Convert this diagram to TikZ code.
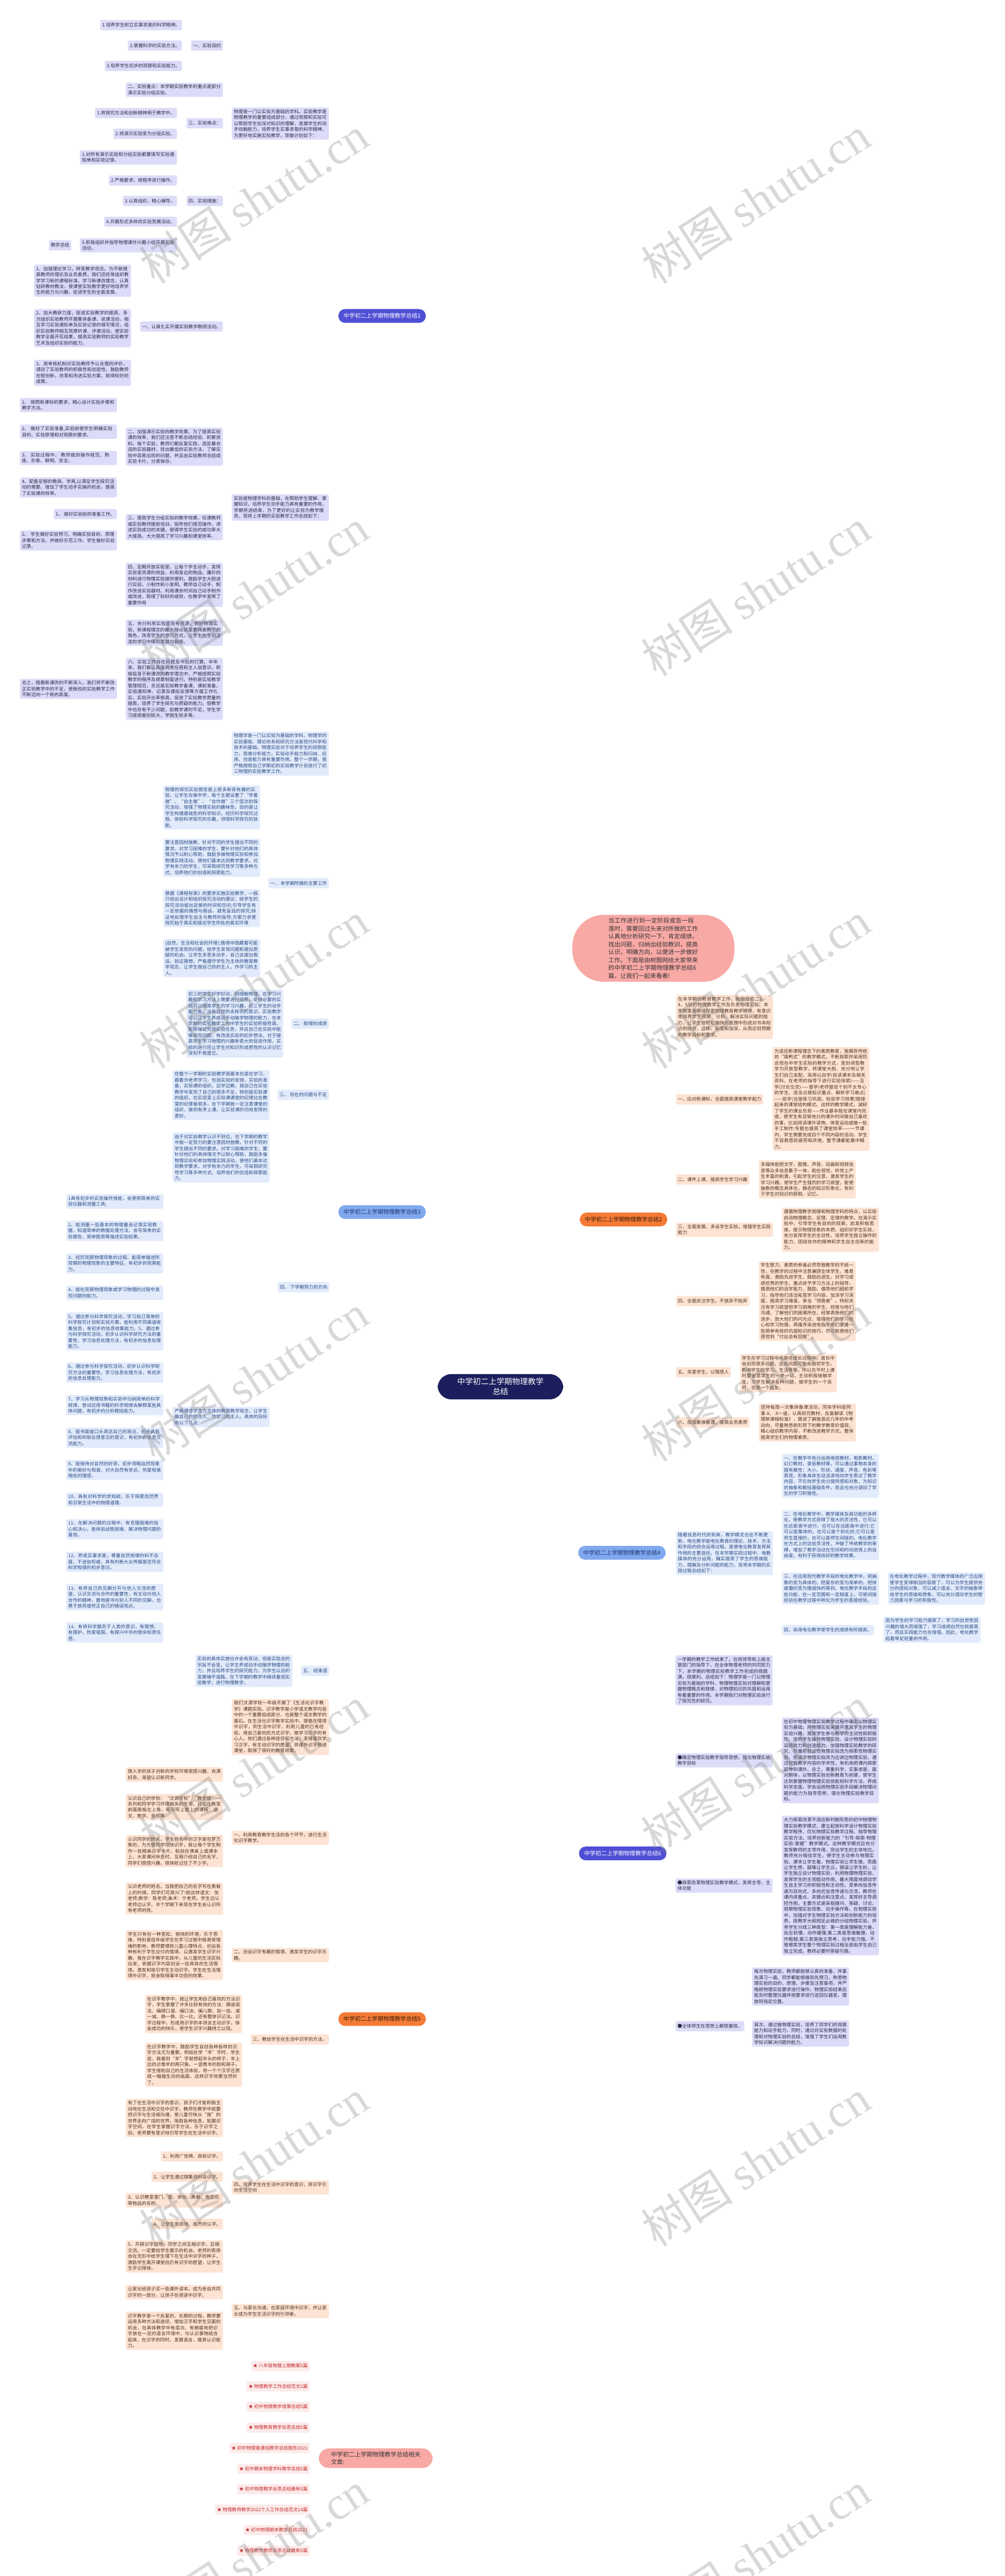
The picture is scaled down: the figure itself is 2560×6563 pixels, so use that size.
\documentclass[tikz,border=0pt]{standalone}
\usepackage{fontspec}
\setmainfont{Noto Sans CJK SC}
\newfontfamily\wmlatin{Liberation Serif}
\XeTeXlinebreaklocale "zh"
\XeTeXlinebreakskip=0pt plus 1pt
\usepackage{xcolor}
\usepackage{tikz}
\usetikzlibrary{positioning,calc}
\pgfdeclarelayer{bg}
\pgfsetlayers{bg,main}
\definecolor{rootFill}{HTML}{1C1F5E}
\definecolor{indigoTopic}{HTML}{4F4FD6}
\definecolor{indigoLeaf}{HTML}{DCDCF9}
\definecolor{indigoInk}{HTML}{2B2B45}
\definecolor{indigoLine}{HTML}{2A2D85}
\definecolor{skyTopic}{HTML}{7FA8EE}
\definecolor{skyHead}{HTML}{1F3570}
\definecolor{skyLeaf}{HTML}{E2EBFB}
\definecolor{skyInk}{HTML}{2A4B85}
\definecolor{skyLine}{HTML}{7DA1E2}
\definecolor{orangeTopic}{HTML}{F47B36}
\definecolor{orangeHead}{HTML}{3A1D0A}
\definecolor{orangeLeaf}{HTML}{FDE3D3}
\definecolor{orangeInk}{HTML}{4A3224}
\definecolor{orangeLine}{HTML}{E8762C}
\definecolor{pinkTopic}{HTML}{F8A9A6}
\definecolor{pinkLeaf}{HTML}{FCEBEB}
\definecolor{pinkInk}{HTML}{C62A2A}
\definecolor{pinkLine}{HTML}{F09A98}
\definecolor{introInk}{HTML}{333333}
\newcommand{\leaffont}{\fontsize{11.8}{15.2}\selectfont}
\tikzset{
  rootnode/.style={fill=rootFill, text=white, rounded corners=35pt, align=center,
    inner xsep=50pt, inner ysep=10pt, font=\fontsize{20}{26}\selectfont},
  topicnode/.style={rounded corners=17pt, inner xsep=13pt, inner ysep=2pt,
    minimum height=35pt, font=\fontsize{14.5}{17}\selectfont},
  indigotopic/.style={topicnode, fill=indigoTopic, text=white},
  skytopic/.style={topicnode, fill=skyTopic, text=skyHead},
  orangetopic/.style={topicnode, fill=orangeTopic, text=orangeHead},
  leafbox/.style={rounded corners=4pt, inner xsep=5pt, inner ysep=5pt,
    minimum height=26pt, align=left, font=\leaffont},
  indigoleaf/.style={leafbox, fill=indigoLeaf, text=indigoInk},
  skyleaf/.style={leafbox, fill=skyLeaf, text=skyInk},
  orangeleaf/.style={leafbox, fill=orangeLeaf, text=orangeInk},
  pinkleaf/.style={leafbox, fill=pinkLeaf, text=pinkInk},
  wide/.style={text width=237pt},
  introbubble/.style={fill=pinkTopic, text=introInk, rounded corners=80pt,
    inner xsep=92pt, inner ysep=8pt, text width=229pt, align=left,
    font=\fontsize{15.2}{20}\selectfont},
  relnode/.style={fill=pinkTopic, text=introInk, rounded corners=26pt,
    inner xsep=31pt, inner ysep=8pt, align=left, font=\fontsize{15.2}{20}\selectfont},
  trunk/.style={line width=2.2pt},
  indigolink/.style={draw=indigoLine, line width=1.3pt, rounded corners=5pt},
  skylink/.style={draw=skyLine, line width=1.3pt, rounded corners=5pt},
  orangelink/.style={draw=orangeLine, line width=1.3pt, rounded corners=5pt},
  pinklink/.style={draw=pinkLine, line width=1.3pt, rounded corners=5pt},
  wmark/.style={rotate=33, text=gray, opacity=0.3, font=\fontsize{118}{118}\selectfont}
}
\begin{document}
\begin{tikzpicture}[x=1pt,y=-1pt]
\fill[white] (0,0) rectangle (2560,6563);
\useasboundingbox (0,0) rectangle (2560,6563);

% root
\node[rootnode] (root) at (1275,3533) {中学初二上学期物理教学\\总结};

% ---------- summary 1 (left, indigo)
\node[indigotopic, anchor=west] (s1) at (862,805) {中学初二上学期物理教学总结1};
\node[indigoleaf, wide, anchor=east] (plan) at (838,315) {物理是一门以实验为基础的学科。实验教学是物理教学的重要组成部分，通过观察和实验可以帮助学生加深对知识的理解，发展学生的动手动脑能力，培养学生实事求是的科学精神。为更好地实施实验教学，现做计划如下：};
\node[indigoleaf, anchor=east] (aim) at (568,116) {一、实验目的};
\node[indigoleaf, anchor=east] (aim1) at (464,64) {1.培养学生树立实事求是的科学精神。};
\node[indigoleaf, anchor=east] (aim2) at (464,116) {2.掌握科学的实验方法。};
\node[indigoleaf, anchor=east] (aim3) at (464,168) {3.培养学生初步的观察和实验能力。};
\node[indigoleaf, wide, anchor=east] (focus) at (568,229) {二、实验重点：本学期实验教学的重点是部分演示实验分组实验。};
\node[indigoleaf, anchor=east] (hard) at (568,314) {三、实验难点：};
\node[indigoleaf, anchor=east] (hard1) at (451,288) {1.将探究方法和创新精神用于教学中。};
\node[indigoleaf, anchor=east] (hard2) at (451,341) {2.将演示实验变为分组实验。};
\node[indigoleaf, anchor=east] (meas) at (568,512) {四、实验措施：};
\node[indigoleaf, wide, anchor=east] (meas1) at (451,401) {1.对所有演示实验和分组实验都要填写实验通知单和实验记录。};
\node[indigoleaf, anchor=east] (meas2) at (451,460) {2.严格要求，按程序进行操作。};
\node[indigoleaf, anchor=east] (meas3) at (451,512) {3.认真组织，精心辅导。};
\node[indigoleaf, anchor=east] (meas4) at (451,565) {4.开展形式多样的实验竞赛活动。};
\node[indigoleaf, wide, anchor=east] (meas5) at (451,625) {5.积极组织并指导物理课外兴趣小组开展实验活动。};
\node[indigoleaf, anchor=east] (msum) at (182,625) {教学总结};

\node[indigoleaf, wide, anchor=east] (review) at (838,1293) {实验是物理学科的基础，在帮助学生理解、掌握知识，培养学生动手能力具有重要的作用。学期将进结束，为了更好的让实验为教学服务，现将上学期的实验教学工作总结如下：};
\node[indigoleaf, anchor=east] (act) at (568,832) {一、认真扎实开展实验教学教研活动。};
\node[indigoleaf, wide, anchor=east] (act1) at (334,715) {1、加强理论学习，转变教学观念。为不断提高教师的理论及业务素质，我们还经常组织教学学习新的课程标准，学习新课改理念，认真钻研教材教法，使课堂实验教学更好地培养学生的能力与兴趣，促进学生的全面发展。};
\node[indigoleaf, wide, anchor=east] (act2) at (334,836) {2、加大教研力度，促进实验教学的提高。多次组织实验教师开展集体备课、说课活动，相互学习实验通知单及实验记录的填写情况，组织实验教师相互观摩听课、评课活动，使实验教学全面开花结果，提高实验教师的实验教学艺术及组织实验的能力。};
\node[indigoleaf, wide, anchor=east] (act3) at (334,950) {3、用考核机制对实验教师予以合理的评价，调动了实验教师的积极性和创造性，鼓励教师在胆创新，改革和改进实验方案，取得较好的成果。};
\node[indigoleaf, wide, anchor=east] (demo) at (568,1138) {二、加强演示实验的教学效果。为了提高实验课的效率，我们还注意不断总结经验、积累资料。每个实验，教师们都反复实践，选定最合适的实验器材，找出最佳的实验方法，了解实验中容易出现的问题，并且由实验教师总结成实验卡片，分类保存。};
\node[indigoleaf, wide, anchor=east] (demo1) at (298,1032) {1、 按照新课标的要求，精心设计实验步骤和教学方法。};
\node[indigoleaf, wide, anchor=east] (demo2) at (298,1100) {2、 做好了实验准备,实验前使学生明确实验目的、实验原理和对观察的要求。};
\node[indigoleaf, wide, anchor=east] (demo3) at (298,1167) {3、 实验过程中， 教师做到操作规范、熟练、形象、鲜明、安全。};
\node[indigoleaf, wide, anchor=east] (demo4) at (298,1242) {4、配备足够的教具、学具,以满足学生探究活动的需要。增加了学生动手实操的机会，提高了实验课的效率。};
\node[indigoleaf, wide, anchor=east] (group) at (568,1343) {三、提高学生分组实验的教学效果。任课教师或实验教师提前培训，指导他们规范操作，讲述实验成功的关键。使得学生实验的成功率大大提高，大大提高了学习兴趣和课堂效率。};
\node[indigoleaf, anchor=east] (group1) at (298,1310) {1、 做好实验前的准备工作。};
\node[indigoleaf, wide, anchor=east] (group2) at (298,1377) {2、 学生做好实验预习，明确实验目的、原理步骤和方法。并做好示范工作。学生做好实验记录。};
\node[indigoleaf, wide, anchor=east] (lab) at (568,1490) {四、定期开放实验室，让每个学生动手，发挥实验室资源的效益，利用身边的物品，廉价的材料进行物理实验提供便利，鼓励学生大胆进行实验，小制作和小发明。教师自己动手，制作改进实验器材。利用课余时间自己动手制作或改进，取得了较好的成效，在教学中发挥了重要作用};
\node[indigoleaf, wide, anchor=east] (room) at (568,1612) {五、充分利用实验室现有资源，搞好物理实验，新课程理念的最大特点就是要转变教师的角色，改变学生的学习方式，让学生在生动活泼的学习中得到发展与锻炼。};
\node[indigoleaf, wide, anchor=east] (issue) at (568,1755) {六、实验工作存在问题及今后的打算。半年来，我们都以高度的责任感和主人翁意识，积极投身于新课改的教学理念中，严格按照实验教学的程序及规章制度进行。特别是实验教学管理规范，无论是实验教学备课、课前准备、实验通知单、记录及课后反馈等方面工作扎实，实验开出率很高，促进了实验教学质量的提高，培养了学生探究与质疑的能力。但教学中也存有不少问题，如教学课时不足，学生学习成绩差别较大，学困生较多等。};
\node[indigoleaf, wide, anchor=east] (issue1) at (298,1755) {总之，随着新课改的不断深入，我们将不断改正实验教学中的不足，使我校的实验教学工作不断迈向一个新的高度。};

% ---------- summary 3 (left, sky)
\node[skytopic, anchor=west] (s3) at (862,3088) {中学初二上学期物理教学总结3};
\node[skyleaf, wide, anchor=east] (base) at (838,1920) {物理学是一门以实验为基础的学科。物理学的实验基础、理论体系和研究方法是现代科学和技术的基础。物理实验对于培养学生的观察能力，思维分析能力，实验动手能力和归纳、应用、创造能力具有重要作用。整个一学期，我严格按照自己学期初的实验教学计划进行了初三物理的实验教学工作。};
\node[skyleaf, anchor=east] (work) at (838,2250) {一、 本学期所做的主要工作};
\node[skyleaf, wide, anchor=east] (work1) at (663,2057) {物理的探究实验报告册上很多新奇有趣的实验，让学生在做中学，每个主题设置了“学着做”、“自主做”、“合作做”三个层次的探究活动，增强了物理实验的趣味性。目的是让学生构建基础性的科学知识，经历科学探究过程，体验科学探究的乐趣，领悟科学探究的技能。};
\node[skyleaf, wide, anchor=east] (work2) at (663,2185) {要注意因材施教，针对不同的学生提出不同的要求。对学习困难的学生，要针对他们的具体情况予以耐心帮助，鼓励多做物理实验和参加物理实践活动，使他们基本达到教学要求。对学有余力的学生，可采取研究性学习等多种方式，培养他们的创造和探索能力。};
\node[skyleaf, wide, anchor=east] (work3) at (663,2314) {根据《课程标准》的要求实施实验教学，一般只给出设计和组织探究活动的建议：给学生的探究活动留出足够的时间和空间;引导学生有一定依据的猜想与假设，避免盲目的探究;辩证地处理学生自主与教师的指导;方案力求使探究始于真实和接近学生所处的真实环境};
\node[skyleaf, wide, anchor=east] (work4) at (663,2441) {(自然、生活和社会的环境);情境中隐藏着可能被学生发现的问题，给学生发现问题和提出质疑的机会。让学生多思多动手，自己去提出假设，验证猜想，严格遵守学生为主体的教育教学观念，让学生做自己的的主人，作学习的主人。};
\node[skyleaf, anchor=east] (gain) at (838,2608) {二、 取得的成绩};
\node[skyleaf, wide, anchor=east] (gain1) at (722,2608) {初三的学生好学好动，刚接触物理，在学习兴趣和学习方法上需要进行培养，安排必要的实验可以提高学生的学习兴趣，初三学生的动手能力差，没有自觉的去探究的意识，实验教学可以让学生养成动手动脑学物理的能力，在本学期的实验教学工作中学生的实验积极性高，能够保证完成实验任务，并且自己在实验中能够发现问题，有改进实验的初步想法，对于提高学生学习物理的兴趣有很大的促进作用，实验的进行还让学生对知识形成感性的认识记忆深刻不易遗忘。};
\node[skyleaf, anchor=east] (lack) at (838,2789) {三、 存在的问题与不足};
\node[skyleaf, wide, anchor=east] (lack1) at (687,2790) {在整个一学期的实验教学我基本也是在学习，跟着许老师学习，包括实验的安排，实验的准备，实验课的组织，边学边教，我自己在实验教学中发现了自己的很多不足，特别是实验课的组织，在实验室上实验课课堂的纪律比在教室的纪律差很多，在下学期我一定注意课堂的组织，做到有序上课，让实验课的功效发挥的更好。};
\node[skyleaf, anchor=east] (next) at (839,3279) {四、 下学期努力的方向};
\node[skyleaf, wide, anchor=east] (next1) at (687,2949) {由于对实验教学认识不到位，在下学期的教学中我一定努力的要注意因材施教，针对不同的学生提出不同的要求。对学习困难的学生，要针对他们的具体情况予以耐心帮助，鼓励多做物理实验和参加物理实践活动，使他们基本达到教学要求。对学有余力的学生，可采取研究性学习等多种方式，培养他们的创造和探索能力。};
\node[skyleaf, wide, anchor=east] (next2) at (687,3610) {严格遵守学生为主体的教育教学观念，让学生做自己的的主人，作学习的主人。具体的目标有以下几点：};
\node[skyleaf, wide, anchor=east] (goal1) at (416,3061) {1具有初步的实验操作技能，会使用简单的实验仪器和测量工具;};
\node[skyleaf, wide, anchor=east] (goal2) at (416,3136) {2、能测量一些基本的物理量会记录实验数据，知道简单的数据处理方法，会写简单的实验报告，简单图表等描述实验结果。};
\node[skyleaf, wide, anchor=east] (goal3) at (416,3219) {3、经历观察物理现象的过程，能简单描述所观察的物理现象的主要特征。有初步的观察能力。};
\node[skyleaf, wide, anchor=east] (goal4) at (416,3294) {4、能在观察物理现象或学习物理的过程中发现问题的能力。};
\node[skyleaf, wide, anchor=east] (goal5) at (416,3392) {5、通过参与科学探究活动，学习拟订简单的科学探究计划和实验方案，能利用不同渠道收集信息，有初步的信息收集能力。5、通过参与科学探究活动，初步认识科学研究方法的重要性，学习信息处理方法，有初步的信息处理能力。};
\node[skyleaf, wide, anchor=east] (goal6) at (416,3497) {6、通过参与科学探究活动，初步认识科学研究方法的重要性，学习信息处理方法，有初步的信息处理能力。};
\node[skyleaf, wide, anchor=east] (goal7) at (416,3580) {7、学习从物理现象和实验中归纳简单的科学规律，尝试应用书籍的科学规律去解释某些具体问题，有初步的分析概括能力。};
\node[skyleaf, wide, anchor=east] (goal8) at (416,3663) {8、能书面或口头表达自己的观点，初步具有评估和听取反馈意见的意识，有初步的信息交流能力。};
\node[skyleaf, wide, anchor=east] (goal9) at (416,3745) {9、能保持对自然的好奇，初步领略自然现象中的美妙与和谐，对大自然有亲近，热爱和谐相处的情感。};
\node[skyleaf, wide, anchor=east] (goal10) at (416,3821) {10、具有对科学的求知欲，乐于探索自然界和日常生活中的物理道理。};
\node[skyleaf, wide, anchor=east] (goal11) at (416,3896) {11、在解决问题的过程中，有克服困难的信心和决心，能体验战胜困难，解决物理问题的喜悦。};
\node[skyleaf, wide, anchor=east] (goal12) at (416,3979) {12、养成实事求是，尊重自然规律的科不态度，不迷信权威，具有判断大众传媒是否符合科学规律的初步意识。};
\node[skyleaf, wide, anchor=east] (goal13) at (416,4069) {13、有将自己的见解分开与他人交流的愿望，认识交流与合作的重要性，有主动与他人合作的精神，敢地提书与别人不同的见解，也勇于放弃或修正自己的错误观点。};
\node[skyleaf, wide, anchor=east] (goal14) at (416,4159) {14、有将科学服务于人类的意识，有理想，有报护，热爱祖国，有振兴中华的使命和责任感。};
\node[skyleaf, anchor=east] (close) at (839,4257) {五、 结束语};
\node[skyleaf, wide, anchor=east] (close1) at (745,4257) {实验的具体实施也许会有变动，但是实验总的宗旨不会变。让学生养成动手动脑学物理的能力，并且培养学生的探究能力，为学生以后的发展铺平道路。在下学期的教学中继续重视实验教学，进行物理教学。};

% ---------- summary 5 (left, orange)
\node[orangetopic, anchor=west] (s5) at (862,5144) {中学初二上学期物理教学总结5};
\node[orangeleaf, wide, anchor=east] (school) at (838,4400) {我们汶源学校一年级开展了《生活化识字教学》课题实验。识字教学是小学语文教学内容中的一个重要组成部分，也是整个语文教学的基石。在生活化识字教学实验中，提倡在情境中识字，到生活中识字，利用儿童的已有经验，用自己喜欢的方式识字，做学习识字的有心人。他们通过各种途径和方法，变得喜欢学习汉字，有主动识字的愿望，将课外识字带进课堂，取得了很好的教育效果。};
\node[orangeleaf, wide, anchor=east] (life) at (838,4682) {一、利用教育教学生活的各个环节，进行生活化识字教学。};
\node[orangeleaf, wide, anchor=east] (life1) at (568,4521) {刚入学的孩子对新的学校环境很感兴趣，充满好奇，渴望认识新同学。};
\node[orangeleaf, wide, anchor=east] (life2) at (568,4604) {认识自己的学校：“汶源学校”“教学楼”一系列和同学学习环境相关的生字。比如在教室前面黑板左上角，每天写上要上的课程：语文、数学、音乐等};
\node[orangeleaf, wide, anchor=east] (life3) at (568,4716) {认识同学的姓名。学生姓名中的汉字是包罗万象的，为方便同学尽快识字，我让每个学生制作一张精美识字卡片，粘贴在课桌上或课本上，大家课间休息时，互相介绍自己的名字，同学们很感兴趣，很快就记住了不少字。};
\node[orangeleaf, wide, anchor=east] (life4) at (568,4837) {认识老师的姓名。当我把自己的名字写在黑板上的时候，同学们可高兴了!就这样语文：张老师;数学：陈老师;美术：宁老师。学生边认老师边认字。半个学期下来现在学生会认识所有老师的姓。};
\node[orangeleaf, wide, anchor=east] (fun) at (838,4981) {二、创设识字有趣的情境，激发学生的识字乐趣。};
\node[orangeleaf, wide, anchor=east] (fun1) at (568,4981) {学生只有在一种宽松、愉快的环境，乐于思维，特别是低年级学生在学习过程中极易受情绪的影响，教师要顺就儿童心理特点，创设各种有利于学生应付的情境，以激发学生识字兴趣。我在识字教学实践中，从儿童的生活实际出发，依据识字内容创设一些具体的生活情境，激发和吸引学生主动识字。学生在生活情境中识字，就会取得事半功倍的效果。};
\node[orangeleaf, anchor=east] (way) at (838,5196) {三、教给学生在生活中识字的方法。};
\node[orangeleaf, wide, anchor=east] (way1) at (617,5131) {在识字教学中，我让学生用自己喜欢的方法识字，学生掌握了许多比较有效的方法：猜谜语法、编顺口溜、编口诀、编儿歌、加一加、减一减、换一换、比一比，还有整体识记法。识字过程中，形成用识字的本领去主动识字，体会成功的快乐，使学生识字兴趣持之以恒。};
\node[orangeleaf, wide, anchor=east] (way2) at (617,5260) {在识字教学中，鼓励学生自创各种各样的识字方法尤为重要。例如在学“羊”字时，学生说，我看到“羊”字就想起羊头的样子，羊上边的点像羊的两只角。一竖像羊的脸和胡子。学生借助自己的生活体验，将一个个汉字还原成一幅幅生动的画面，这样识字效果当然好了。};
\node[orangeleaf, wide, anchor=east] (sense) at (838,5573) {四、培养学生在生活中识字的意识，将识字引向生活空间};
\node[orangeleaf, wide, anchor=east] (sense1) at (568,5396) {有了在生活中识字的意识，孩子们才能积极主动地在生活和交往中识字。教师在教学中就要把识字与生活相沟通，使儿童尽快从“我”的世界走向广阔的世界，吸取各种信息，拓展识字空间。在学生掌握识字方法，乐于识字之后，老师要有意识地引导学生在生活中识字。};
\node[orangeleaf, anchor=east] (sense2) at (568,5494) {1、利用广告牌、商标识字。};
\node[orangeleaf, anchor=east] (sense3) at (568,5546) {2、让学生通过搜集资料去识字。};
\node[orangeleaf, wide, anchor=east] (sense4) at (568,5606) {3、认识教室里门、窗、讲台、黑板、电视机等物品的名称。};
\node[orangeleaf, anchor=east] (sense5) at (568,5666) {4、让学生逛商场、超市时认字。};
\node[orangeleaf, wide, anchor=east] (sense6) at (568,5749) {5、开辟识字园地，同学之间互相识字，互相交流。一定要给学生展示的机会。老师的表扬会在无形中给学生埋下在生活中识字的种子，激励学生离开课堂后仍有识字的愿望，让学生生字记得快，};
\node[orangeleaf, wide, anchor=east] (home) at (838,5888) {五、与家长沟通，在家庭环境中识字，并让家长成为学生生活识字的引领者。};
\node[orangeleaf, wide, anchor=east] (home1) at (568,5840) {让家长给孩子买一些课外读本。成为亲自共同识字的一部分，让孩子在阅读中识字。};
\node[orangeleaf, wide, anchor=east] (home2) at (568,5938) {识字教学是一个反复的、长期的过程，教师要运用多种方法和途径，增加汉字和学生见面的机会，在具体教学中有层次、有梯度地把识字放在一定的语言环境中，与认识事物结合起来，在识字的同时，发展语言，提高认识能力。};

% ---------- related articles (left, pink)
\node[relnode, anchor=west] (rel) at (812,6263) {中学初二上学期物理教学总结相关\\文章:};
\node[pinkleaf, anchor=east] (rel1) at (789,6028) {★ 八年级物理上期教案5篇};
\node[pinkleaf, anchor=east] (rel2) at (789,6080) {★ 物理教学工作总结范文5篇};
\node[pinkleaf, anchor=east] (rel3) at (789,6132) {★ 初中物理教学成果总结5篇};
\node[pinkleaf, anchor=east] (rel4) at (789,6185) {★ 物理教育教学反思总结5篇};
\node[pinkleaf, anchor=east] (rel5) at (789,6237) {★ 初中物理备课组教学总结报告2021};
\node[pinkleaf, anchor=east] (rel6) at (789,6290) {★ 初中期末物理学科教学总结5篇};
\node[pinkleaf, anchor=east] (rel7) at (789,6342) {★ 初中物理教学反思总结最新5篇};
\node[pinkleaf, anchor=east] (rel8) at (789,6394) {★ 物理教师教学2022个人工作总结范文14篇};
\node[pinkleaf, anchor=east] (rel9) at (789,6446) {★ 初中物理期末教学总结2021};
\node[pinkleaf, anchor=east] (rel10) at (789,6499) {★ 物理教学教师反思总结最新5篇};

% ---------- intro bubble (right, pink)
\node[introbubble, anchor=west] (intro) at (1458,2416) {当工作进行到一定阶段或告一段落时，需要回过头来对所做的工作认真地分析研究一下，肯定成绩，找出问题，归纳出经验教训，提高认识，明确方向，以便进一步做好工作。下面是由树图网给大家带来的中学初二上学期物理教学总结6篇，让我们一起来看看!};

% ---------- summary 2 (right, orange)
\node[orangetopic, anchor=east] (s2) at (1700,3107) {中学初二上学期物理教学总结2};
\node[orangeleaf, wide, anchor=west] (duty) at (1722,2591) {在本学期的教育教学工作，我担任初二3、4、5班的物理教学工作及负责物理实验。本学期里我继续探索物理教育教学规律，有意识地培养学生观察、分析、解决实际问题的能力，让学生在轻松愉快的氛围中形成对书本知识的综合、迁移、拓宽和加深，从而达到预期的教学目标和要求。};
\node[orangeleaf, anchor=west] (newstd) at (1722,2801) {一、应对新课标，全面提高课堂教学能力};
\node[orangeleaf, wide, anchor=west] (newstd1) at (1968,2800) {为适应新课程理念下的素质教育，我摒弃传统的“填鸭式”的教学模式，不断探索并采用符合现在中学生实际的教学方式，变封闭型教学为开放型教学，将课堂大胆、充分地让学生们自己支配。采用以自学(自读课本及相关资料、在老师的指导下进行实验探索)——互学(讨论交流)——督学(老师督促个别不太专心的学生、适当点拨知识重点、解析学习难点)——验学(当堂练习巩固，检验学习效果)链接起来的课堂结构模式。这样的教学模式，减轻了学生的课业负担——作业基本能在课堂内完成，使学生有足够充分的课外时间做自己喜欢的事，比如阅读课外读物、体育运动或做一些手工制作;专题也提高了课堂效率——一节课内，学生需要完成四个不同内容的活动，学生不容易感到疲劳和厌倦，整节课都能集中精力。};
\node[orangeleaf, anchor=west] (media) at (1722,3005) {二、课件上课，提高学生学习兴趣};
\node[orangeleaf, wide, anchor=west] (media1) at (1933,3005) {多媒体能把文字、图像、声音、动画和视频信息等众多信息集于一体，能在视觉、听觉上产生丰富的刺激，引起学生的注意，激发学生的学习兴趣，使学生产生强烈的学习欲望，能使抽象的概念具体化，静态的知识形象化，有利于学生对知识的获取、记忆。};
\node[orangeleaf, wide, anchor=west] (practice) at (1722,3133) {三、全面发展，多设学生实验，增强学生实践能力};
\node[orangeleaf, wide, anchor=west] (practice1) at (1992,3133) {遵循物理教学规律和物理学科的特点，以实验启动物理概念、定理、定律的教学。在演示实验中，引导学生有目的的观察，启发积极思维，提示物理现象的本质。组织好学生实验，充分发挥学生的主动性，培养学生独立操作的能力、团结协作的精神和学生自主创新的能力。};
\node[orangeleaf, anchor=west] (care) at (1722,3315) {四、全面关注学生，不放弃不抛弃};
\node[orangeleaf, wide, anchor=west] (care1) at (1933,3315) {学生智力、素质的参差必然导致教学的不统一性，在教学的过程中注意兼顾全体学生，难易有度，激励先进学生，鼓励后进生。对学习成绩优秀的学生，重点给予学习方法上的指导，提高他们的自学能力，鼓励、倡导他们超前学习，指导他们适当拓宽学习内容、加深学习深度、提高学习难度，争当“领跑者”。特别关注有学习欲望但学习困难的学生，经常与他们沟通，了解他们的困难所在，经常表扬他们的进步，放大他们的闪光点，增强他们的学习信心和学习热情，再循序渐进地指导他们掌握一些简单有效的巩固知识的技巧，尽可能使他们感觉到“付出总有回报”。};
\node[orangeleaf, anchor=west] (love) at (1722,3496) {五、关爱学生，以情感人};
\node[orangeleaf, wide, anchor=west] (love1) at (1885,3498) {学生在学习过程中也是在成长过程中，成长中会出现很多问题，这些问题可能会困扰学生，影响学生的学习、生活等等。所以在平时上课时要留意学生的一举一动，主动积极接触学生，为学生解决各种问题，做学生的一个良师，也是一个益友。};
\node[orangeleaf, anchor=west] (team) at (1722,3624) {六、加强集体备课，提高业务素质};
\node[orangeleaf, wide, anchor=west] (team1) at (1933,3624) {坚持每周一次集体备课活动，同本学科组同事-X、-X一道，认真研究教材，反复解读《物理新课程标准》，跟进了解我县近几年的中考动向，尽量熟悉新形势下的教学教育价值观，精心组织教学内容，不断改进教学方式，整体提高学生们的物理素质。};

% ---------- summary 4 (right, sky)
\node[skytopic, anchor=east] (s4) at (1696,3956) {中学初二上学期物理教学总结4};
\node[skyleaf, wide, anchor=west] (av) at (1722,3957) {随着信息时代的到来，教学模式也在不断更新。电化教学是电化教育的理论、技术、方法和手段的综合运用过程，是使电化教育发挥其作用的主要途径。在本学期实践过程中，电教媒体的充分运用，确实提高了学生的思维能力，理解及分析问题的能力，现将本学期的实践过程总结如下：};
\node[skyleaf, wide, anchor=west] (av1) at (1992,3760) {一、在教学中充分运用电视教材、电影教材、幻灯教材，录音教材等，可以通过事物本身的固有属性：大小、形状、速度、声音、色彩等表现，形象具体生动活泼地向学生表达了教学内容，不仅向学生充分提供感知对象，为知识的抽象和概括基础条件，而且也充分调动了学生的学习积极性。};
\node[skyleaf, wide, anchor=west] (av2) at (1992,3911) {二、在电化教学中，教学媒体及其功能的多样化，使教学方式获得了极大的灵活性，它可以在近距离中进行，也可以在远距离中进行;它可以是集体的，也可以是个别化的;它可以是师生直接的，也可以是师生间接的，电化教学在方式上的这些灵活性，冲破了传统教学的束缚，增加了教学活动在空间和时间选择上的自由度，有利于获得良好的教学效果。};
\node[skyleaf, wide, anchor=west] (av3) at (1992,4047) {三、在应用现代教学手段的电化教学中，把抽象的变为具体的，把复杂的变为简单的，把快或慢的变为慢或快的等到。电化教学手段的这些功能，在一定范围和一定程度上，可使间接经验在教学过程中转化为学生的直接经验。};
\node[skyleaf, wide, anchor=west] (av3a) at (2262,4047) {在电化教学过程中，现代教学媒体的广泛应用使学生变得相当的容易了，可以为学生提供充分的感知对象，可以减少语言、文字的抽象带给学生的思维和想象，可以充分调动学生的智力因素与学习的积极性。};
\node[skyleaf, anchor=west] (av4) at (1992,4153) {四、采用电化教学使学生的成绩有所提高。};
\node[skyleaf, wide, anchor=west] (av4a) at (2251,4152) {因为学生的学习能力提高了，学习的自觉性因兴趣的增大而增强了，学习成绩自然也就提高了，而且实践能力也在增强。因此，电化教学起着举足轻重的作用。};

% ---------- summary 6 (right, indigo)
\node[indigotopic, anchor=east] (s6) at (1698,4722) {中学初二上学期物理教学总结6};
\node[indigoleaf, wide, anchor=west] (term) at (1721,4281) {一学期的教学工作结束了。在校领导和上级主管部门的指导下，在全体物理老师的共同努力下，本学期的物理实验教学工作完成的很圆满，很顺利，总结如下：物理学是一门以物理实验为基础的学科，物理物理实验对理解和掌握物理概念和规律，对物理知识的巩固和运用有着重要的作用。本学期我们对物理实验进行了探究性的研究。};
\node[indigoleaf, wide, anchor=west] (guide) at (1721,4485) {●确定物理实验教学指导思想，强化物理实验教学目标};
\node[indigoleaf, wide, anchor=west] (guide1) at (1992,4485) {在初中物理物理实验教学过程中确定以物理实验为基础，用物理实验来展开激发学生的物理实验兴趣，发挥学生参与教学的主动性和积极性，培养学生操作物理实验、设计物理实验的实践能力和创造能力，加强物理实验教学的研究，尽量把验证性物理实验改为探索性物理实验，把演示物理实验改为边讲边物理实验，通过挖掘教学内容的学术性，有机地把课内探索延伸到课外。总之，尊重科学，实事求是，面对群体，以物理实验创新教育为前提，使学生达到掌握物理物理实验技能和科学方法，养成科学态度，学会运用物理实验手段解决物理问题的能力为指导思想，强化物理实验教学目标。};
\node[indigoleaf, wide, anchor=west] (mode) at (1721,4804) {●探索改革物理实验教学模式，发挥主导、主体功能};
\node[indigoleaf, wide, anchor=west] (mode1) at (1992,4804) {大力探索改革不适应新时期形势的初中物理物理实验教学模式，建立起按科学设计物理实验教学程序、优化物理实验教学过程、指导物理实验方法、培养创新能力的“引导-探索-物理实验-掌握”教学模式。这种教学模式应充分发挥教师的主导作用，突出学生的主体地位。教师充分相信学生，使学生主动参与物理实验。课本让学生看，物理实验让学生做，思路让学生想，疑难让学生议，错误让学生析。让学生独立设计物理实验，利用物理物理实验，发挥学生的主观能动作用，最大限度地调动学生自主学习的积极性和主动性。变单向信息传递为双向式、多向式信息传递与交流，教师在课内讲重点、关键点和注意点，发挥好主导调控作用。主要方式是采取提问、答疑、讨论、观察物理实验现象、动手操作等。在物理实验中，加强对学生物理实验方法和创新能力的培养。按教学大纲规定必做的分组物理实验，并将学生分成三种类型：第一类是理解能力差，反应较慢，动作缓慢;第二类是思维敏捷，动作粗糙;第三类是独立思考，动手能力强。不管哪类学生整个物理实验过程全部由学生自己独立完成，教师必要时答疑引路。};
\node[indigoleaf, anchor=west] (all) at (1721,5162) {●全体师生在思想上都很重视。};
\node[indigoleaf, wide, anchor=west] (all1) at (1916,5061) {每次物理实验，教师都能够认真的准备，并事先演习一遍。同学都能够做到先预习，熟悉物理实验的目的、原理、步骤及注意事项，并严格按物理实验要求进行操作。物理实验结束后能及时整理仪器并按要求进行送回仪器室，摆放到指定位置。};
\node[indigoleaf, wide, anchor=west] (all2) at (1916,5181) {其次，通过做物理实验，培养了同学们的观察能力和动手能力，同时，通过对实验数据的处理和对物理实验的总结，增强了学生们运用数学知识解决问题的能力。};

% ---------- connectors
\begin{pgfonlayer}{bg}
\draw[trunk, indigoLine] (root.center) .. controls (1275,1400) and (1190,805) .. (s1.east);
\draw[trunk, skyLine] (root.center) .. controls (1275,3150) and (1180,3088) .. (s3.east);
\draw[trunk, pinkLine] (root.center) .. controls (1275,2700) and (1350,2416) .. (intro.west);
\draw[trunk, orangeLine] (root.center) .. controls (1275,3200) and (1370,3107) .. (s2.west);
\draw[trunk, skyLine] (root.center) .. controls (1275,3850) and (1370,3956) .. (s4.west);
\draw[trunk, indigoLine] (root.center) .. controls (1275,4400) and (1330,4722) .. (s6.west);
\draw[trunk, orangeLine] (root.center) .. controls (1275,4800) and (1180,5144) .. (s5.east);
\draw[trunk, pinkLine] (root.center) .. controls (1275,5600) and (1200,6263) .. (rel.east);

\draw[indigolink] (s1.west) -- ++(-11,0) |- (plan.east);
\draw[indigolink] (s1.west) -- ++(-11,0) |- (review.east);
\draw[indigolink] (plan.west) -- ++(-12,0) |- (aim.east);
\draw[indigolink] (plan.west) -- ++(-12,0) |- (focus.east);
\draw[indigolink] (plan.west) -- ++(-12,0) |- (hard.east);
\draw[indigolink] (plan.west) -- ++(-12,0) |- (meas.east);
\draw[indigolink] (aim.west) -- ++(-12,0) |- (aim1.east);
\draw[indigolink] (aim.west) -- ++(-12,0) |- (aim2.east);
\draw[indigolink] (aim.west) -- ++(-12,0) |- (aim3.east);
\draw[indigolink] (hard.west) -- ++(-12,0) |- (hard1.east);
\draw[indigolink] (hard.west) -- ++(-12,0) |- (hard2.east);
\draw[indigolink] (meas.west) -- ++(-12,0) |- (meas1.east);
\draw[indigolink] (meas.west) -- ++(-12,0) |- (meas2.east);
\draw[indigolink] (meas.west) -- ++(-12,0) |- (meas3.east);
\draw[indigolink] (meas.west) -- ++(-12,0) |- (meas4.east);
\draw[indigolink] (meas.west) -- ++(-12,0) |- (meas5.east);
\draw[indigolink] (meas5.west) -- (msum.east);
\draw[indigolink] (review.west) -- ++(-12,0) |- (act.east);
\draw[indigolink] (review.west) -- ++(-12,0) |- (demo.east);
\draw[indigolink] (review.west) -- ++(-12,0) |- (group.east);
\draw[indigolink] (review.west) -- ++(-12,0) |- (lab.east);
\draw[indigolink] (review.west) -- ++(-12,0) |- (room.east);
\draw[indigolink] (review.west) -- ++(-12,0) |- (issue.east);
\draw[indigolink] (act.west) -- ++(-13,0) |- (act1.east);
\draw[indigolink] (act.west) -- ++(-13,0) |- (act2.east);
\draw[indigolink] (act.west) -- ++(-13,0) |- (act3.east);
\draw[indigolink] (demo.west) -- ++(-12,0) |- (demo1.east);
\draw[indigolink] (demo.west) -- ++(-12,0) |- (demo2.east);
\draw[indigolink] (demo.west) -- ++(-12,0) |- (demo3.east);
\draw[indigolink] (demo.west) -- ++(-12,0) |- (demo4.east);
\draw[indigolink] (group.west) -- ++(-12,0) |- (group1.east);
\draw[indigolink] (group.west) -- ++(-12,0) |- (group2.east);
\draw[indigolink] (issue.west) -- (issue1.east);

\draw[skylink] (s3.west) -- ++(-11,0) |- (base.east);
\draw[skylink] (s3.west) -- ++(-11,0) |- (work.east);
\draw[skylink] (s3.west) -- ++(-11,0) |- (gain.east);
\draw[skylink] (s3.west) -- ++(-11,0) |- (lack.east);
\draw[skylink] (s3.west) -- ++(-11,0) |- (next.east);
\draw[skylink] (s3.west) -- ++(-11,0) |- (close.east);
\draw[skylink] (work.west) -- ++(-12,0) |- (work1.east);
\draw[skylink] (work.west) -- ++(-12,0) |- (work2.east);
\draw[skylink] (work.west) -- ++(-12,0) |- (work3.east);
\draw[skylink] (work.west) -- ++(-12,0) |- (work4.east);
\draw[skylink] (gain.west) -- (gain1.east);
\draw[skylink] (lack.west) -- (lack1.east);
\draw[skylink] (next.west) -- ++(-13,0) |- (next1.east);
\draw[skylink] (next.west) -- ++(-13,0) |- (next2.east);
\draw[skylink] (next2.west) -- ++(-12,0) |- (goal1.east);
\draw[skylink] (next2.west) -- ++(-12,0) |- (goal2.east);
\draw[skylink] (next2.west) -- ++(-12,0) |- (goal3.east);
\draw[skylink] (next2.west) -- ++(-12,0) |- (goal4.east);
\draw[skylink] (next2.west) -- ++(-12,0) |- (goal5.east);
\draw[skylink] (next2.west) -- ++(-12,0) |- (goal6.east);
\draw[skylink] (next2.west) -- ++(-12,0) |- (goal7.east);
\draw[skylink] (next2.west) -- ++(-12,0) |- (goal8.east);
\draw[skylink] (next2.west) -- ++(-12,0) |- (goal9.east);
\draw[skylink] (next2.west) -- ++(-12,0) |- (goal10.east);
\draw[skylink] (next2.west) -- ++(-12,0) |- (goal11.east);
\draw[skylink] (next2.west) -- ++(-12,0) |- (goal12.east);
\draw[skylink] (next2.west) -- ++(-12,0) |- (goal13.east);
\draw[skylink] (next2.west) -- ++(-12,0) |- (goal14.east);
\draw[skylink] (close.west) -- (close1.east);

\draw[orangelink] (s5.west) -- ++(-16,0) |- (school.east);
\draw[orangelink] (s5.west) -- ++(-16,0) |- (life.east);
\draw[orangelink] (s5.west) -- ++(-16,0) |- (fun.east);
\draw[orangelink] (s5.west) -- ++(-16,0) |- (way.east);
\draw[orangelink] (s5.west) -- ++(-16,0) |- (sense.east);
\draw[orangelink] (s5.west) -- ++(-16,0) |- (home.east);
\draw[orangelink] (life.west) -- ++(-11,0) |- (life1.east);
\draw[orangelink] (life.west) -- ++(-11,0) |- (life2.east);
\draw[orangelink] (life.west) -- ++(-11,0) |- (life3.east);
\draw[orangelink] (life.west) -- ++(-11,0) |- (life4.east);
\draw[orangelink] (fun.west) -- (fun1.east);
\draw[orangelink] (way.west) -- ++(-12,0) |- (way1.east);
\draw[orangelink] (way.west) -- ++(-12,0) |- (way2.east);
\draw[orangelink] (sense.west) -- ++(-11,0) |- (sense1.east);
\draw[orangelink] (sense.west) -- ++(-11,0) |- (sense2.east);
\draw[orangelink] (sense.west) -- ++(-11,0) |- (sense3.east);
\draw[orangelink] (sense.west) -- ++(-11,0) |- (sense4.east);
\draw[orangelink] (sense.west) -- ++(-11,0) |- (sense5.east);
\draw[orangelink] (sense.west) -- ++(-11,0) |- (sense6.east);
\draw[orangelink] (home.west) -- ++(-11,0) |- (home1.east);
\draw[orangelink] (home.west) -- ++(-11,0) |- (home2.east);

\draw[pinklink] (rel.west) -- ++(-13,0) |- (rel1.east);
\draw[pinklink] (rel.west) -- ++(-13,0) |- (rel2.east);
\draw[pinklink] (rel.west) -- ++(-13,0) |- (rel3.east);
\draw[pinklink] (rel.west) -- ++(-13,0) |- (rel4.east);
\draw[pinklink] (rel.west) -- ++(-13,0) |- (rel5.east);
\draw[pinklink] (rel.west) -- ++(-13,0) |- (rel6.east);
\draw[pinklink] (rel.west) -- ++(-13,0) |- (rel7.east);
\draw[pinklink] (rel.west) -- ++(-13,0) |- (rel8.east);
\draw[pinklink] (rel.west) -- ++(-13,0) |- (rel9.east);
\draw[pinklink] (rel.west) -- ++(-13,0) |- (rel10.east);

\draw[orangelink] (s2.east) -- ++(14,0) |- (duty.west);
\draw[orangelink] (s2.east) -- ++(14,0) |- (newstd.west);
\draw[orangelink] (s2.east) -- ++(14,0) |- (media.west);
\draw[orangelink] (s2.east) -- ++(14,0) |- (practice.west);
\draw[orangelink] (s2.east) -- ++(14,0) |- (care.west);
\draw[orangelink] (s2.east) -- ++(14,0) |- (love.west);
\draw[orangelink] (s2.east) -- ++(14,0) |- (team.west);
\draw[orangelink] (newstd.east) -- (newstd1.west);
\draw[orangelink] (media.east) -- (media1.west);
\draw[orangelink] (practice.east) -- (practice1.west);
\draw[orangelink] (care.east) -- (care1.west);
\draw[orangelink] (love.east) -- (love1.west);
\draw[orangelink] (team.east) -- (team1.west);

\draw[skylink] (s4.east) -- (av.west);
\draw[skylink] (av.east) -- ++(13,0) |- (av1.west);
\draw[skylink] (av.east) -- ++(13,0) |- (av2.west);
\draw[skylink] (av.east) -- ++(13,0) |- (av3.west);
\draw[skylink] (av.east) -- ++(13,0) |- (av4.west);
\draw[skylink] (av3.east) -- (av3a.west);
\draw[skylink] (av4.east) -- (av4a.west);

\draw[indigolink] (s6.east) -- ++(13,0) |- (term.west);
\draw[indigolink] (s6.east) -- ++(13,0) |- (guide.west);
\draw[indigolink] (s6.east) -- ++(13,0) |- (mode.west);
\draw[indigolink] (s6.east) -- ++(13,0) |- (all.west);
\draw[indigolink] (guide.east) -- (guide1.west);
\draw[indigolink] (mode.east) -- (mode1.west);
\draw[indigolink] (all.east) -- ++(13,0) |- (all1.west);
\draw[indigolink] (all.east) -- ++(13,0) |- (all2.west);
\end{pgfonlayer}

% watermarks
\begin{scope}
\clip (0,0) rectangle (2560,6563);
\node[wmark] (wmA1) at (647,510) {树图 {\wmlatin shutu.cn}};
\node[wmark] (wmB1) at (1925,510) {树图 {\wmlatin shutu.cn}};
\node[wmark] (wmA2) at (647,1510) {树图 {\wmlatin shutu.cn}};
\node[wmark] (wmB2) at (1925,1510) {树图 {\wmlatin shutu.cn}};
\node[wmark] (wmA3) at (647,2510) {树图 {\wmlatin shutu.cn}};
\node[wmark] (wmB3) at (1925,2510) {树图 {\wmlatin shutu.cn}};
\node[wmark] (wmA4) at (647,3510) {树图 {\wmlatin shutu.cn}};
\node[wmark] (wmB4) at (1925,3510) {树图 {\wmlatin shutu.cn}};
\node[wmark] (wmA5) at (647,4510) {树图 {\wmlatin shutu.cn}};
\node[wmark] (wmB5) at (1925,4510) {树图 {\wmlatin shutu.cn}};
\node[wmark] (wmA6) at (647,5510) {树图 {\wmlatin shutu.cn}};
\node[wmark] (wmB6) at (1925,5510) {树图 {\wmlatin shutu.cn}};
\node[wmark] (wmA7) at (647,6510) {树图 {\wmlatin shutu.cn}};
\node[wmark] (wmB7) at (1925,6510) {树图 {\wmlatin shutu.cn}};
\end{scope}
\end{tikzpicture}
\end{document}
